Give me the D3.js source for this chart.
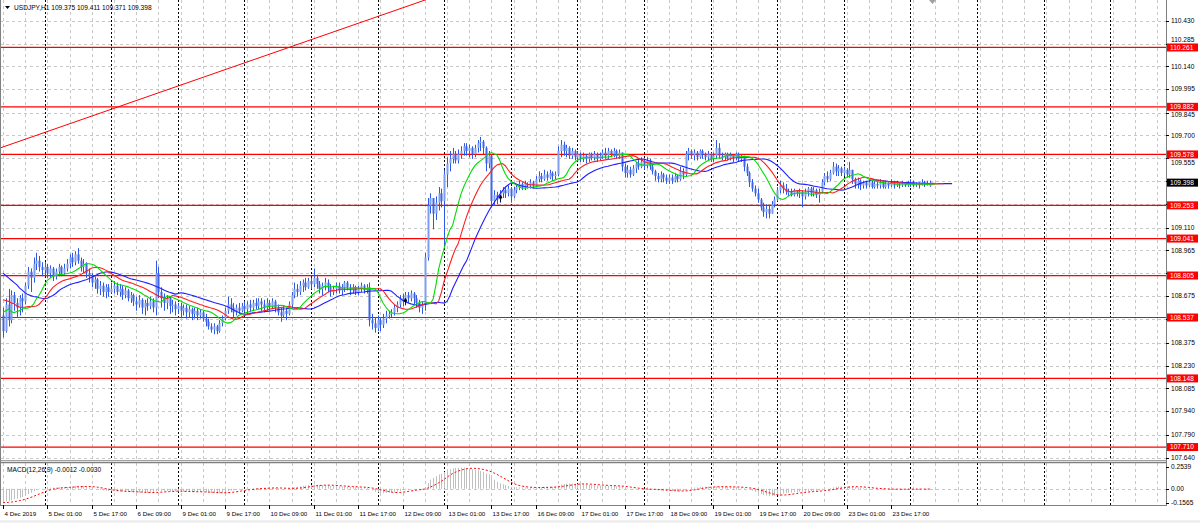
<!DOCTYPE html>
<html><head><meta charset="utf-8">
<script src="https://cdn.jsdelivr.net/npm/d3@7"></script>
<style>html,body{margin:0;padding:0;background:#fff;overflow:hidden}</style>
</head><body><svg id="c" width="1200" height="523"></svg>
<script>
// ---------- DATA ----------
const symbolTitle = "USDJPY,H1  109.375 109.411 109.371 109.398";
const macdTitle = "MACD(12,26,9) -0.0012 -0.0030";
const firstOpen = 108.55, lastOpen = 109.375;
const closes = [
108.45,108.62,108.52,108.68,108.63,108.60,108.66,108.64,
108.74,108.83,108.79,108.88,108.90,108.86,108.84,108.86,
108.82,108.85,108.80,108.83,108.86,108.82,108.85,108.88,
108.92,108.89,108.94,108.90,108.86,108.88,108.82,108.80,
108.76,108.78,108.72,108.74,108.70,108.73,108.70,108.72,
108.74,108.70,108.72,108.68,108.71,108.66,108.68,108.64,
108.62,108.65,108.60,108.63,108.61,108.64,108.60,108.82,
108.70,108.66,108.63,108.66,108.61,108.62,108.59,108.61,
108.58,108.60,108.57,108.59,108.56,108.58,108.55,108.57,
108.53,108.51,108.48,108.46,108.48,108.45,108.50,108.53,
108.58,108.62,108.60,108.57,108.60,108.58,108.61,108.59,
108.62,108.60,108.63,108.61,108.64,108.62,108.60,108.63,
108.61,108.64,108.60,108.57,108.55,108.58,108.56,108.62,
108.68,108.72,108.70,108.74,108.76,108.73,108.77,108.75,
108.79,108.75,108.72,108.74,108.76,108.73,108.70,108.72,
108.74,108.71,108.73,108.76,108.73,108.71,108.73,108.70,
108.72,108.74,108.71,108.73,108.52,108.50,108.47,108.52,
108.49,108.53,108.55,108.56,108.57,108.60,108.62,108.66,
108.64,108.68,108.66,108.69,108.66,108.63,108.60,108.62,
108.92,109.25,109.30,109.20,109.27,109.33,109.28,109.45,
109.52,109.55,109.58,109.54,109.58,109.60,109.63,109.60,
109.62,109.58,109.62,109.65,109.66,109.62,109.52,109.57,
109.28,109.32,109.29,109.33,109.35,109.33,109.36,109.31,
109.35,109.37,109.39,109.37,109.39,109.38,109.40,109.38,
109.42,109.44,109.42,109.45,109.43,109.46,109.44,109.45,
109.60,109.64,109.60,109.62,109.57,109.60,109.56,109.58,
109.55,109.57,109.55,109.58,109.56,109.58,109.55,109.57,
109.59,109.57,109.60,109.58,109.60,109.57,109.59,109.50,
109.46,109.48,109.45,109.49,109.52,109.50,109.53,109.51,
109.54,109.50,109.47,109.44,109.42,109.45,109.43,109.41,
109.43,109.41,109.44,109.42,109.47,109.45,109.58,109.60,
109.57,109.59,109.56,109.60,109.58,109.56,109.58,109.55,
109.57,109.62,109.57,109.56,109.58,109.55,109.57,109.56,
109.58,109.55,109.56,109.50,109.46,109.40,109.36,109.33,
109.29,109.24,109.21,109.23,109.20,109.26,109.29,109.35,
109.38,109.36,109.34,109.34,109.32,109.35,109.33,109.34,
109.31,109.34,109.36,109.33,109.35,109.32,109.34,109.40,
109.44,109.42,109.46,109.50,109.47,109.49,109.46,109.48,
109.45,109.48,109.42,109.39,109.41,109.38,109.40,109.38,
109.40,109.37,109.39,109.38,109.40,109.37,109.39,109.38,
109.40,109.38,109.39,109.38,109.40,109.38,109.39,109.40,
109.38,109.39,109.38,109.40,109.39,109.39,109.398];
const highs = [
108.60,108.66,108.72,108.71,108.70,108.66,108.68,108.69,
108.76,108.86,108.85,108.92,108.95,108.93,108.89,108.89,
108.88,108.87,108.86,108.85,108.88,108.87,108.88,108.91,
108.94,108.95,108.96,108.98,108.92,108.91,108.89,108.85,
108.82,108.80,108.79,108.77,108.76,108.75,108.75,108.76,
108.77,108.76,108.75,108.74,108.73,108.72,108.70,108.69,
108.67,108.68,108.66,108.65,108.66,108.67,108.66,108.90,
108.86,108.73,108.69,108.68,108.67,108.65,108.64,108.63,
108.63,108.62,108.62,108.61,108.60,108.60,108.60,108.59,
108.58,108.56,108.53,108.50,108.50,108.49,108.52,108.55,
108.60,108.67,108.66,108.63,108.62,108.63,108.63,108.64,
108.64,108.65,108.65,108.66,108.66,108.66,108.65,108.66,
108.65,108.66,108.65,108.62,108.60,108.61,108.60,108.64,
108.70,108.76,108.75,108.77,108.78,108.79,108.79,108.79,
108.85,108.81,108.77,108.76,108.79,108.78,108.75,108.74,
108.76,108.76,108.75,108.77,108.77,108.75,108.75,108.74,
108.74,108.76,108.75,108.75,108.76,108.56,108.54,108.55,
108.54,108.56,108.58,108.58,108.59,108.62,108.64,108.68,
108.69,108.70,108.70,108.71,108.70,108.68,108.65,108.64,
108.95,109.30,109.33,109.30,109.31,109.37,109.36,109.48,
109.56,109.60,109.62,109.60,109.61,109.63,109.65,109.65,
109.64,109.63,109.64,109.67,109.69,109.67,109.63,109.60,
109.58,109.35,109.34,109.35,109.37,109.37,109.38,109.37,
109.37,109.39,109.41,109.40,109.41,109.40,109.42,109.41,
109.44,109.47,109.46,109.48,109.47,109.48,109.47,109.47,
109.63,109.67,109.66,109.64,109.63,109.62,109.61,109.60,
109.59,109.59,109.58,109.59,109.59,109.60,109.59,109.59,
109.61,109.62,109.62,109.61,109.62,109.61,109.61,109.59,
109.52,109.51,109.50,109.51,109.53,109.55,109.56,109.55,
109.56,109.55,109.52,109.48,109.46,109.47,109.46,109.45,
109.45,109.45,109.46,109.45,109.50,109.49,109.60,109.62,
109.61,109.61,109.60,109.61,109.61,109.59,109.60,109.59,
109.59,109.67,109.65,109.59,109.59,109.59,109.59,109.58,
109.59,109.59,109.58,109.57,109.52,109.47,109.42,109.38,
109.36,109.30,109.27,109.26,109.25,109.28,109.31,109.37,
109.41,109.40,109.39,109.36,109.36,109.36,109.35,109.36,
109.35,109.36,109.37,109.37,109.37,109.36,109.36,109.42,
109.46,109.47,109.48,109.53,109.52,109.51,109.50,109.50,
109.49,109.53,109.47,109.43,109.43,109.42,109.41,109.41,
109.42,109.41,109.41,109.41,109.42,109.41,109.41,109.40,
109.42,109.41,109.41,109.40,109.41,109.40,109.41,109.42,
109.41,109.40,109.40,109.42,109.41,109.41,109.411];
const lows = [
108.41,108.44,108.48,108.50,108.58,108.54,108.55,108.57,
108.62,108.72,108.70,108.76,108.84,108.83,108.80,108.80,
108.79,108.79,108.77,108.78,108.80,108.80,108.81,108.83,
108.85,108.86,108.87,108.88,108.83,108.82,108.79,108.76,
108.73,108.72,108.69,108.68,108.67,108.66,108.67,108.69,
108.69,108.68,108.67,108.65,108.66,108.64,108.63,108.61,
108.58,108.60,108.56,108.55,108.58,108.59,108.57,108.55,
108.66,108.60,108.58,108.59,108.56,108.57,108.55,108.56,
108.54,108.55,108.53,108.54,108.52,108.53,108.52,108.53,
108.51,108.48,108.46,108.44,108.43,108.43,108.44,108.48,
108.52,108.56,108.57,108.54,108.55,108.56,108.57,108.57,
108.56,108.57,108.58,108.59,108.59,108.58,108.57,108.58,
108.58,108.59,108.57,108.55,108.51,108.54,108.52,108.55,
108.60,108.66,108.67,108.68,108.70,108.71,108.72,108.72,
108.73,108.72,108.69,108.68,108.71,108.70,108.67,108.68,
108.69,108.69,108.68,108.70,108.71,108.68,108.69,108.68,
108.68,108.70,108.69,108.69,108.48,108.46,108.44,108.45,
108.45,108.47,108.50,108.53,108.54,108.55,108.57,108.60,
108.61,108.62,108.63,108.64,108.62,108.60,108.57,108.56,
108.58,108.90,109.20,109.10,109.16,109.22,109.24,109.00,
109.37,109.47,109.52,109.52,109.52,109.55,109.57,109.57,
109.56,109.55,109.56,109.59,109.60,109.58,109.47,109.49,
109.24,109.25,109.26,109.27,109.30,109.30,109.31,109.27,
109.30,109.33,109.35,109.35,109.35,109.36,109.36,109.36,
109.37,109.40,109.40,109.41,109.41,109.42,109.41,109.42,
109.44,109.56,109.57,109.56,109.55,109.55,109.54,109.54,
109.53,109.53,109.52,109.53,109.54,109.54,109.53,109.54,
109.55,109.55,109.55,109.56,109.56,109.55,109.55,109.47,
109.43,109.43,109.43,109.44,109.46,109.48,109.49,109.48,
109.49,109.48,109.45,109.41,109.40,109.40,109.40,109.39,
109.39,109.39,109.40,109.40,109.41,109.42,109.44,109.54,
109.55,109.54,109.54,109.55,109.55,109.54,109.54,109.53,
109.53,109.55,109.55,109.54,109.54,109.54,109.54,109.53,
109.54,109.53,109.53,109.47,109.44,109.37,109.34,109.31,
109.27,109.22,109.18,109.17,109.17,109.20,109.24,109.28,
109.33,109.33,109.32,109.31,109.31,109.31,109.31,109.30,
109.24,109.29,109.31,109.31,109.31,109.30,109.27,109.33,
109.38,109.40,109.41,109.45,109.44,109.44,109.44,109.44,
109.43,109.43,109.39,109.36,109.36,109.35,109.36,109.36,
109.37,109.36,109.36,109.36,109.36,109.36,109.36,109.36,
109.37,109.36,109.37,109.36,109.37,109.37,109.37,109.37,
109.37,109.37,109.36,109.38,109.37,109.38,109.371];
// Alligator: line values before enough history
const jawHead = [108.82,108.805,108.79,108.775,108.76,108.745,108.725,108.71];
const teethHead = [108.65,108.645,108.64,108.63,108.625];
const lipsHead = [108.57,108.58,108.59];
// MACD pre-history seeds
const ema12Seed = 108.70, ema26Seed = 108.84, macdPreSeed = -0.16;
const macdAxis = [0.2539, 0.00, -0.1565];
const timeLabels = ["4 Dec 2019","5 Dec 01:00","5 Dec 17:00","6 Dec 09:00","9 Dec 01:00","9 Dec 17:00","10 Dec 09:00","11 Dec 01:00","11 Dec 17:00","12 Dec 09:00","13 Dec 01:00","13 Dec 17:00","16 Dec 09:00","17 Dec 01:00","17 Dec 17:00","18 Dec 09:00","19 Dec 01:00","19 Dec 17:00","20 Dec 09:00","23 Dec 01:00","23 Dec 17:00"];
const labelEvery = 16, gridEvery = 8;
const daySeparatorBars = [15,39,63,87,111,135,159,183,207,231,255,279,303,327,351,375,399];
const priceTicks = [110.430,110.285,110.140,109.995,109.845,109.700,109.555,109.410,109.260,109.110,108.965,108.820,108.675,108.525,108.375,108.230,108.085,107.940,107.790,107.640];
const levels = [110.261,109.882,109.578,109.253,109.041,108.805,108.537,108.148,107.710];
const currentPrice = 109.398;
const trendBars = [-1.1, 152.1];
const trendPrices = [109.619, 110.564];
const arrowBars = [145, 179];
const arrowPrices = [108.64, 109.30];

// ---------- LAYOUT ----------
const svg = d3.select("#c");
const FONT = "'Liberation Sans', Arial, sans-serif";
const plotR = 1166, mainTop = 0, mainBot = 460, macdTop = 463, macdBot = 505;
const N = closes.length;
const opens = closes.map((c,i)=> i===0 ? firstOpen : (i===N-1 ? lastOpen : closes[i-1]));
const x = d3.scaleLinear().domain([0, N-1]).range([3, 929.85]);
const y = d3.scaleLinear().domain([107.640,110.430]).range([458,21]);
const ym = d3.scaleLinear().domain([macdAxis[2], macdAxis[0]]).range([502.5, 466.5]);

svg.append("rect").attr("width",1200).attr("height",523).attr("fill","#fff");
svg.append("rect").attr("x",0).attr("y",520).attr("width",1200).attr("height",3).attr("fill","#f0f0f0");

const defs = svg.append("defs");
defs.append("clipPath").attr("id","cm").append("rect").attr("x",0).attr("y",mainTop).attr("width",plotR).attr("height",mainBot-mainTop);
defs.append("clipPath").attr("id","cd").append("rect").attr("x",0).attr("y",macdTop).attr("width",plotR).attr("height",macdBot-macdTop);

// grid
const g = svg.append("g");
const maxBar = Math.floor(x.invert(plotR));
const gridBars = d3.range(0, maxBar+1, gridEvery);
const px = v => Math.round(v)+0.5;
[[mainTop,mainBot],[macdTop,macdBot]].forEach(([t,b])=>{
  g.selectAll(null).data(gridBars).enter().append("line")
   .attr("x1",d=>px(x(d))).attr("x2",d=>px(x(d))).attr("y1",t).attr("y2",b)
   .attr("stroke","#c8c8c8").attr("stroke-dasharray","3,3");
});
g.selectAll(null).data(priceTicks).enter().append("line")
 .attr("x1",0).attr("x2",plotR).attr("y1",d=>px(y(d))).attr("y2",d=>px(y(d)))
 .attr("stroke","#c8c8c8").attr("stroke-dasharray","3,3");
g.append("line").attr("x1",0).attr("x2",plotR).attr("y1",px(ym(0))).attr("y2",px(ym(0)))
 .attr("stroke","#c8c8c8").attr("stroke-dasharray","3,3");
// day separators
[[mainTop,mainBot],[macdTop,macdBot]].forEach(([t,b])=>{
  g.selectAll(null).data(daySeparatorBars.filter(d=>x(d)<plotR)).enter().append("line")
   .attr("x1",d=>px(x(d))).attr("x2",d=>px(x(d))).attr("y1",t).attr("y2",b)
   .attr("stroke","#000").attr("stroke-dasharray","2,2");
});

// trend line & levels
const main = svg.append("g").attr("clip-path","url(#cm)");
const tl = d3.scaleLinear().domain(trendBars).range(trendPrices);
main.append("line").attr("x1",x(-5)).attr("y1",y(tl(-5))).attr("x2",x(250)).attr("y2",y(tl(250)))
 .attr("stroke","#ff0000").attr("stroke-width",1);
main.selectAll(null).data(levels).enter().append("line")
 .attr("x1",0).attr("x2",plotR).attr("y1",d=>y(d)).attr("y2",d=>y(d))
 .attr("stroke","#ff0000").attr("stroke-width",1.2);

// candles
const cg = main.append("g");
d3.range(N).forEach(i=>{
  const cx = Math.round(x(i));
  const o=opens[i], c=closes[i];
  const hi=Math.max(highs[i],o,c), lo=Math.min(lows[i],o,c);
  cg.append("line").attr("x1",cx+0.5).attr("x2",cx+0.5).attr("y1",y(hi)).attr("y2",y(lo))
    .attr("stroke","#2d58e6").attr("stroke-width",1);
  const top=y(Math.max(o,c)), bot=y(Math.min(o,c));
  cg.append("rect").attr("x",cx-0.5).attr("width",2).attr("y",top).attr("height",Math.max(1,bot-top))
    .attr("fill", c>=o ? "#7f9df0" : "#3f66e6");
});

// Alligator
const med = highs.map((h,i)=>(h+lows[i])/2);
function smma(n, seed){ let p=seed; return med.map(v=> p=(p*(n-1)+v)/n); }
function shifted(head, n){ const s = smma(n, head[head.length-1]); return head.concat(s); }
const jaw = shifted(jawHead,13), teeth = shifted(teethHead,8), lips = shifted(lipsHead,5);
const ln = d3.line().x((d,i)=>x(i)).y(d=>y(d));
main.append("path").attr("d",ln(jaw)).attr("fill","none").attr("stroke","#1f1fff").attr("stroke-width",1.1);
main.append("path").attr("d",ln(teeth)).attr("fill","none").attr("stroke","#ff1f1f").attr("stroke-width",1.1);
main.append("path").attr("d",ln(lips)).attr("fill","none").attr("stroke","#00dd00").attr("stroke-width",1.1);

// small arrows
arrowBars.forEach((b,k)=>{
  const ax0 = Math.round(x(b))+0.5, ay = y(arrowPrices[k]);
  main.append("path").attr("d",`M${ax0},${ay-3} L${ax0-1.5},${ay} L${ax0+1.5},${ay} Z M${ax0},${ay} L${ax0},${ay+4}`)
   .attr("fill","#000").attr("stroke","#000").attr("stroke-width",0.8);
});

// MACD
function ema(n, seed){ const k=2/(n+1); let p=seed; return closes.map(c=> p=p+k*(c-p)); }
const e12=ema(12,ema12Seed), e26=ema(26,ema26Seed);
const macd = e12.map((v,i)=>v-e26[i]);
const ext = d3.range(8).map(()=>macdPreSeed).concat(macd);
const signal = macd.map((v,i)=> d3.mean(ext.slice(i, i+9)));
const mg = svg.append("g").attr("clip-path","url(#cd)");
mg.selectAll(null).data(macd).enter().append("line")
 .attr("x1",(d,i)=>Math.round(x(i))+0.5).attr("x2",(d,i)=>Math.round(x(i))+0.5)
 .attr("y1",ym(0)).attr("y2",d=>ym(d)).attr("stroke","#c0c0c0").attr("stroke-width",1);
mg.append("path").attr("d",d3.line().x((d,i)=>x(i)).y(d=>ym(d))(signal))
 .attr("fill","none").attr("stroke","#ff0000").attr("stroke-dasharray","2,2");

// frames
const fr = svg.append("g").attr("stroke","#808080").attr("fill","none");
fr.append("line").attr("x1",plotR+0.5).attr("x2",plotR+0.5).attr("y1",0).attr("y2",macdBot+1);
fr.append("line").attr("x1",0).attr("x2",plotR).attr("y1",mainBot+0.5).attr("y2",mainBot+0.5).attr("stroke","#a0a0a0");
fr.append("line").attr("x1",0).attr("x2",plotR).attr("y1",mainBot+2.5).attr("y2",mainBot+2.5).attr("stroke-width",1.5);
fr.append("line").attr("x1",0).attr("x2",plotR).attr("y1",macdBot+0.5).attr("y2",macdBot+0.5);
fr.append("line").attr("x1",0.5).attr("x2",0.5).attr("y1",0).attr("y2",macdBot);

// chart shift marker
svg.append("path").attr("d","M929,0 L936,0 L932.5,4 Z").attr("fill","#a0a0a0");

// right price axis
const ax = svg.append("g").attr("font-family",FONT).attr("font-size","6.6px");
const boxes = levels.concat([currentPrice]);
priceTicks.forEach(p=>{
  ax.append("line").attr("x1",plotR).attr("x2",plotR+3).attr("y1",px(y(p))).attr("y2",px(y(p))).attr("stroke","#000");
  const nearest = boxes.reduce((a,b)=>Math.abs(y(b)-y(p))<Math.abs(y(a)-y(p))?b:a);
  const d = y(p)-y(nearest);
  if (Math.abs(d) < 3.2) return;            // fully hidden behind a price box in the reference
  let ty = y(p);
  if (Math.abs(d) < 8) ty = y(nearest) + Math.sign(d)*8; // peeking out from behind a box
  ax.append("text").attr("x",plotR+5).attr("y",ty).attr("dy","0.35em").text(p.toFixed(3));
});
levels.forEach(p=>{
  ax.append("rect").attr("x",plotR+1).attr("y",y(p)-4).attr("width",31).attr("height",8).attr("fill","#ff0000");
  ax.append("text").attr("x",plotR+4).attr("y",y(p)).attr("dy","0.35em").attr("fill","#fff").text(p.toFixed(3));
});
ax.append("rect").attr("x",plotR+1).attr("y",y(currentPrice)-4).attr("width",31).attr("height",8).attr("fill","#000");
ax.append("text").attr("x",plotR+4).attr("y",y(currentPrice)).attr("dy","0.35em").attr("fill","#fff").text(currentPrice.toFixed(3));
macdAxis.forEach(v=>{
  ax.append("line").attr("x1",plotR).attr("x2",plotR+3).attr("y1",px(ym(v))).attr("y2",px(ym(v))).attr("stroke","#000");
  ax.append("text").attr("x",plotR+5).attr("y",ym(v)).attr("dy","0.35em").text(v===0?"0.00":v.toFixed(4));
});

// time axis
timeLabels.forEach((t,k)=>{
  const xb = Math.round(x(k*labelEvery))+0.5;
  ax.append("line").attr("x1",xb).attr("x2",xb).attr("y1",macdBot).attr("y2",macdBot+4).attr("stroke","#000");
  ax.append("text").attr("x",xb+1).attr("y",516).attr("font-size","6.2px").text(t);
});

// titles
ax.append("path").attr("d","M5,6 L10,6 L7.5,9 Z").attr("fill","#000");
ax.append("text").attr("x",14).attr("y",10).text(symbolTitle);
ax.append("text").attr("x",7).attr("y",472).text(macdTitle);
</script></body></html>
